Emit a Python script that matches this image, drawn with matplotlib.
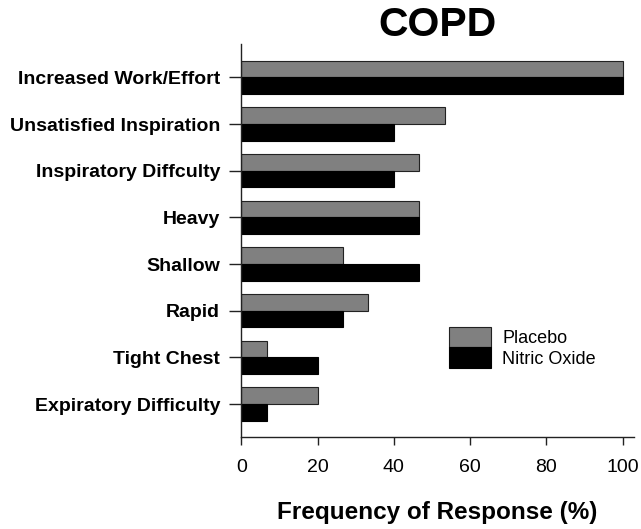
import matplotlib
matplotlib.use("Agg")
import matplotlib.pyplot as plt
import numpy as np
from matplotlib.patches import Patch

plt.rcParams['font.family'] = ['Liberation Sans', 'DejaVu Sans']

categories = [
    "Increased Work/Effort",
    "Unsatisfied Inspiration",
    "Inspiratory Diffculty",
    "Heavy",
    "Shallow",
    "Rapid",
    "Tight Chest",
    "Expiratory Difficulty",
]
placebo = [100, 53.3, 46.7, 46.7, 26.7, 33.3, 6.7, 20.0]
nitric_oxide = [100, 40.0, 40.0, 46.7, 46.7, 26.7, 20.0, 6.7]
series_names = ["Placebo", "Nitric Oxide"]
x_ticks = [0, 20, 40, 60, 80, 100]

fig = plt.figure(figsize=(6.41, 5.29), dpi=100)
ax = fig.add_axes([0.3765, 0.1733, 0.989 - 0.3765, 0.9168 - 0.1733])

y = np.arange(len(categories))
h = 0.36
ax.barh(y - h / 2, placebo, height=h, color="#808080", edgecolor="#222222", linewidth=0.8)
ax.barh(y + h / 2, nitric_oxide, height=h, color="black", edgecolor="black", linewidth=0.8)

ax.set_ylim(7.714, -0.714)
ax.set_xlim(0, 103)
ax.set_yticks(y)
ax.set_yticklabels(categories, fontsize=14, fontweight="bold")
ax.set_xticks(x_ticks)
ax.set_xticklabels([str(t) for t in x_ticks], fontsize=14)

for s in ["top", "right"]:
    ax.spines[s].set_visible(False)
for s in ["left", "bottom"]:
    ax.spines[s].set_linewidth(1.0)
    ax.spines[s].set_color("#222222")

ax.tick_params(axis="y", length=8.3, width=1.0, pad=7, color="#222222")
ax.tick_params(axis="x", length=5.8, width=1.0, pad=10, color="#222222")

ax.set_xlabel("Frequency of Response (%)", fontsize=17.5, fontweight="bold", labelpad=18)
ax.set_title("COPD", fontsize=29.5, fontweight="bold", pad=4)

handles = [
    Patch(facecolor="#808080", edgecolor="#222222", linewidth=0.8),
    Patch(facecolor="black", edgecolor="black", linewidth=0.8),
]
ax.legend(handles, series_names, loc="upper left", bbox_to_anchor=(0.53, 0.281),
          frameon=False, fontsize=13, handlelength=2.33, handleheight=1.37,
          labelspacing=0.0, handletextpad=0.6, borderpad=0, borderaxespad=0)

fig.savefig("out.png", dpi=100)
